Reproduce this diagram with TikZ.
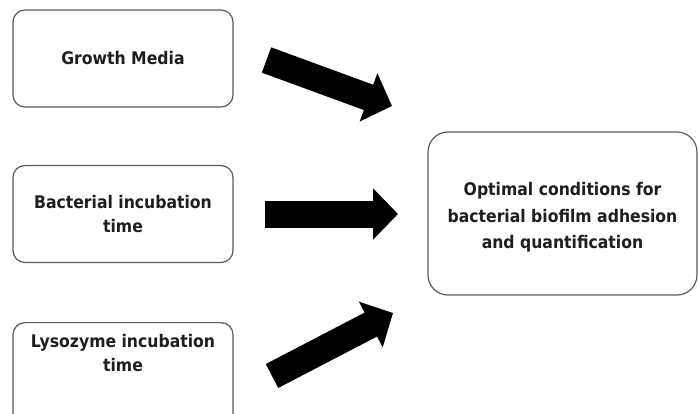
\documentclass[tikz,border=0pt]{standalone}
\usepackage{fontspec}
\setmainfont{DejaVu Sans Condensed}
\usepackage{tikz}
\usetikzlibrary{arrows.meta,positioning}
\usepackage{xcolor}
\definecolor{fdBorder}{HTML}{5A5A5A}
\definecolor{fdText}{HTML}{1E1E1E}
\tikzset{
    factor/.style={draw=fdBorder,line width=1.2pt,rounded corners=12pt,fill=white,
        minimum width=220pt,minimum height=97pt,align=center,text=fdText,
        font=\fontsize{17.4}{23.5}\selectfont\bfseries},
    outcome/.style={draw=fdBorder,line width=1.2pt,rounded corners=20pt,fill=white,
        minimum width=269pt,minimum height=163pt,align=center,text=fdText,
        font=\fontsize{17.4}{26.5}\selectfont\bfseries},
    fatarrow/.style={-{Triangle[length=25pt,width=50pt]},line width=27pt,black}
}

\begin{document}
\begin{tikzpicture}[x=1pt,y=-1pt]
  \useasboundingbox (0,0) rectangle (698,414);

  % Factor boxes
  \node[factor] (media) at (123,58.5) {Growth Media};
  \node[factor] (bacterial) at (123,214) {Bacterial incubation\\time};
  \node[factor,anchor=north,inner ysep=12pt,text depth=42pt] (lysozyme) at (123,322) {Lysozyme incubation\\time};

  % Outcome box
  \node[outcome,text height=74pt] (optimal) at (562.5,213.5) {Optimal conditions for\\bacterial biofilm adhesion\\and quantification};

  % Arrow ends
  \coordinate (mediaTail) at (266.5,60);
  \coordinate (mediaTip) at (392,106);
  \coordinate (bacterialTail) at (265,214);
  \coordinate (bacterialTip) at (398,214);
  \coordinate (lysozymeTail) at (272,376);
  \coordinate (lysozymeTip) at (393,313);

  % Arrows towards the outcome
  \draw[fatarrow] (mediaTail) -- (mediaTip);
  \draw[fatarrow] (bacterialTail) -- (bacterialTip);
  \draw[fatarrow] (lysozymeTail) -- (lysozymeTip);
\end{tikzpicture}
\end{document}
